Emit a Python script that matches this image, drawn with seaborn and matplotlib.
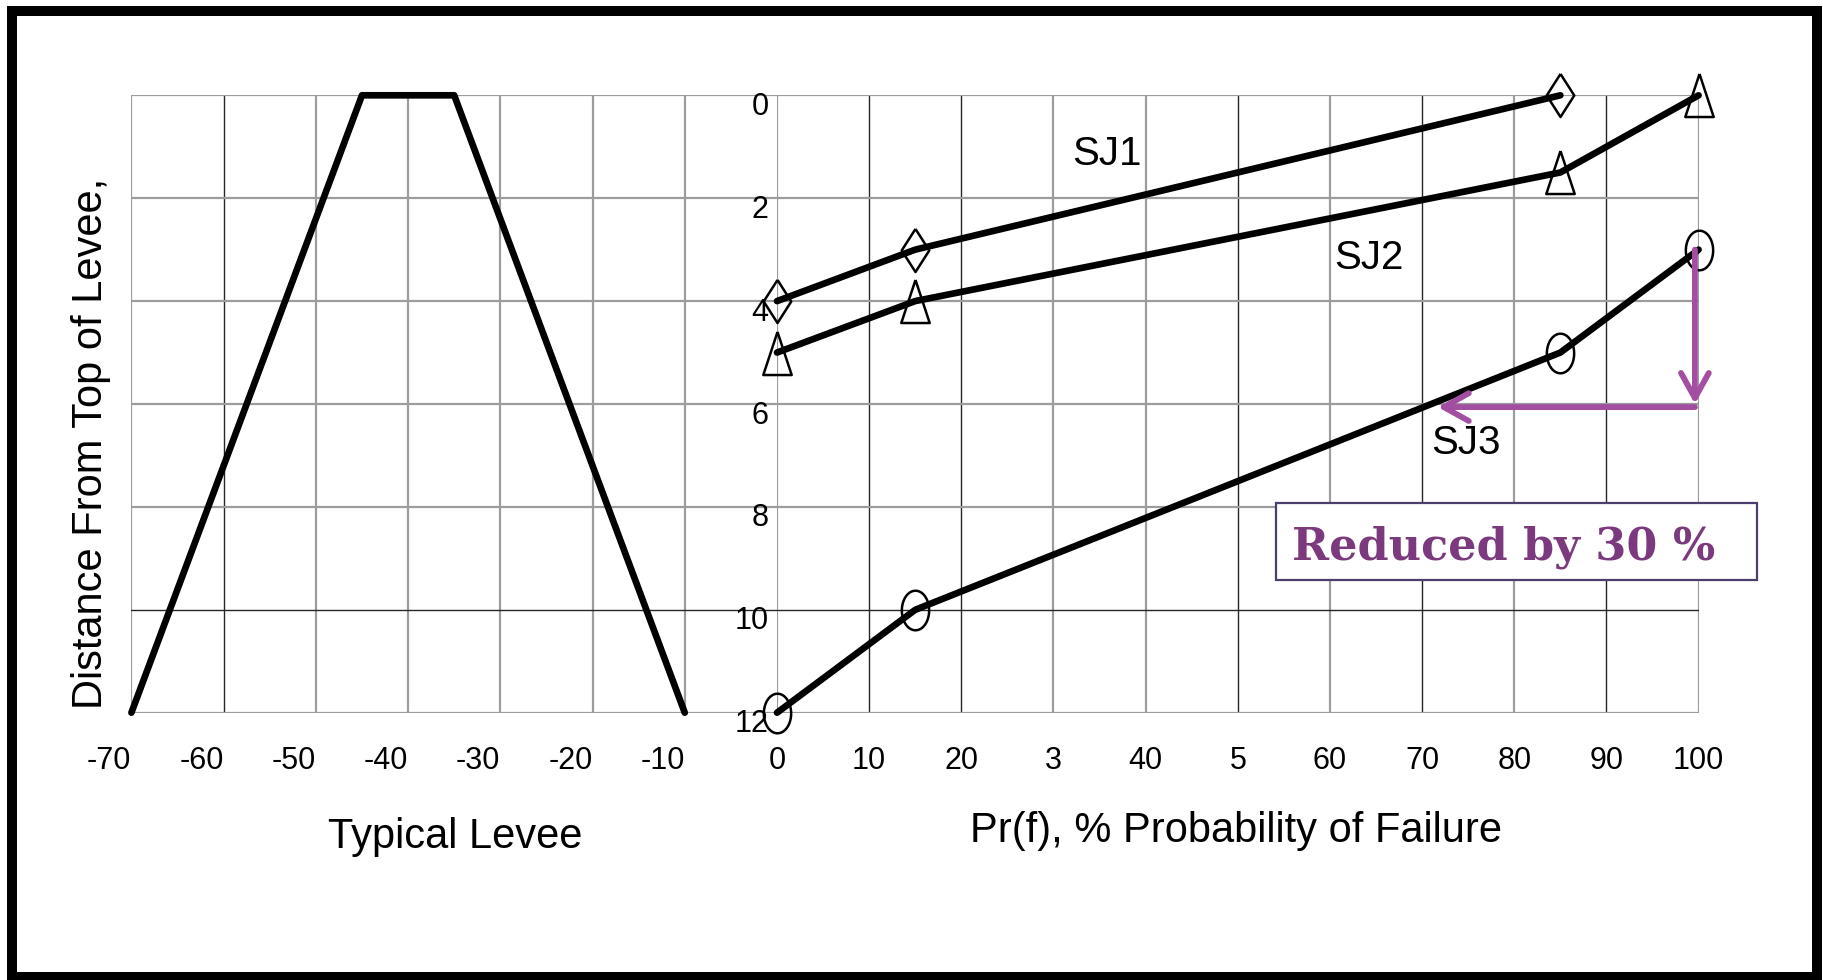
import numpy as np
import matplotlib
matplotlib.use("Agg")
import matplotlib.pyplot as plt
import seaborn as sns
from matplotlib.patches import Rectangle
from matplotlib.transforms import ScaledTranslation

# ---------------- data ----------------
levee_x = [-70, -45, -35, -10]
levee_y = [12, 0, 0, 12]

sj1_pf = [0, 15, 85]
sj1_depth = [4, 3, 0]
sj2_pf = [0, 15, 85, 100]
sj2_depth = [5, 4, 1.5, 0]
sj3_pf = [0, 15, 85, 100]
sj3_depth = [12, 10, 5, 3]
series_names = ["SJ1", "SJ2", "SJ3"]

levee_ticks = [-70, -60, -50, -40, -30, -20, -10]
levee_ticklabels = ["-70", "-60", "-50", "-40", "-30", "-20", "-10"]
pf_ticks = [0, 10, 20, 30, 40, 50, 60, 70, 80, 90, 100]
pf_ticklabels = ["0", "10", "20", "3", "40", "5", "60", "70", "80", "90", "100"]
depth_ticks = [0, 2, 4, 6, 8, 10, 12]
depth_ticklabels = ["0", "2", "4", "6", "8", "10", "12"]

reduction_from_depth = 3      # SJ3 depth at 100 %
reduction_to_depth = 6
reduction_pf = 71.7
annotation_text = "Reduced by 30 %"

# ---------------- style ----------------
sns.set_style("white")
plt.rcParams["font.family"] = ["Liberation Sans", "DejaVu Sans"]
plt.rcParams["text.color"] = "black"
plt.rcParams["axes.labelcolor"] = "black"
plt.rcParams["xtick.color"] = "black"
plt.rcParams["ytick.color"] = "black"

W, H = 1823, 980
fig = plt.figure(figsize=(W / 100, H / 100), dpi=100)
fig.patch.set_facecolor("white")


def px_axes(x0, y0, x1, y1):
    return [x0 / W, 1 - y1 / H, (x1 - x0) / W, (y1 - y0) / H]


ax_l = fig.add_axes(px_axes(131.4, 95.3, 777, 712.7))
ax_r = fig.add_axes(px_axes(777, 95.3, 1698.6, 712.7))

grid_color = "#9c9c9c"
dark_color = "#262626"
dark_x = {-60, 10, 20, 50, 70, 90}
dark_y = {10}

LINE_W = 4.8
TICK_FS = 22
LABEL_FS = 30


def ellipse_verts(rx, n=64):
    t = np.linspace(0, 2 * np.pi, n)
    return list(zip(rx * np.sin(t), np.cos(t)))


diamond = [(0, 1), (0.64, 0), (0, -1), (-0.64, 0), (0, 1)]
triangle = [(0, 1), (0.66, -1), (-0.66, -1), (0, 1)]
ellipse = ellipse_verts(0.69)

# ---------------- left panel: levee ----------------
sns.lineplot(x=levee_x, y=levee_y, ax=ax_l, color="black", linewidth=LINE_W,
             sort=False, clip_on=False, zorder=3)
ax_l.set_xlim(-70, 0)
ax_l.set_ylim(12, 0)
ax_l.set_xticks(levee_ticks)
ax_l.set_xticklabels(levee_ticklabels, fontsize=TICK_FS, ha="right")
ax_l.set_yticks(depth_ticks)
ax_l.tick_params(axis="y", length=0, labelleft=False)
ax_l.tick_params(axis="x", direction="out", length=6, width=1, color=grid_color, pad=18)
ax_l.set_xlabel("Typical Levee", fontsize=LABEL_FS, va="center")
ax_l.xaxis.set_label_coords(0.501, -0.202)
ax_l.set_ylabel("Distance From Top of Levee,", fontsize=LABEL_FS, va="center")
ax_l.yaxis.set_label_coords(-0.0626, 0.436)

# ---------------- right panel: probability of failure ----------------
series = [(sj1_pf, sj1_depth, diamond, 31),
          (sj2_pf, sj2_depth, triangle, 31),
          (sj3_pf, sj3_depth, ellipse, 28.5)]
for (xs, ys, mk, ms) in series:
    sns.lineplot(x=xs, y=ys, ax=ax_r, color="black", linewidth=LINE_W, sort=False,
                 marker=mk, markersize=ms, markerfacecolor="none",
                 markeredgecolor="black", markeredgewidth=1.8, clip_on=False, zorder=3)

ax_r.set_xlim(0, 100)
ax_r.set_ylim(12, 0)
ax_r.set_xticks(pf_ticks)
ax_r.set_xticklabels(pf_ticklabels, fontsize=TICK_FS)
ax_r.set_yticks(depth_ticks)
ax_r.set_yticklabels(depth_ticklabels, fontsize=TICK_FS)
ax_r.tick_params(axis="y", length=0, pad=6)
ax_r.tick_params(axis="x", direction="out", length=6, width=1, color=grid_color, pad=18)
ax_r.set_xlabel("Pr(f), % Probability of Failure", fontsize=LABEL_FS, va="center")
ax_r.xaxis.set_label_coords(0.498, -0.191)
ax_r.set_ylabel("")

for lab in ax_r.get_yticklabels():
    lab.set_transform(lab.get_transform() + ScaledTranslation(0, -8 / 100, fig.dpi_scale_trans))

for ax in (ax_l, ax_r):
    ax.set_facecolor("white")
    for sp in ax.spines.values():
        sp.set_visible(False)
    ax.set_axisbelow(True)
    ax.grid(True, color=grid_color, linewidth=1.6)
    for tick_val, gl in zip(ax.get_xticks(), ax.xaxis.get_gridlines()):
        if tick_val in dark_x:
            gl.set_color(dark_color)
            gl.set_linewidth(1.0)
    for tick_val, gl in zip(ax.get_yticks(), ax.yaxis.get_gridlines()):
        if tick_val in dark_y:
            gl.set_color(dark_color)
            gl.set_linewidth(1.0)

# series labels
label_pos = [(35.8, 1.15), (64.2, 3.16), (74.8, 6.76)]
for name, (lx, ly) in zip(series_names, label_pos):
    ax_r.text(lx, ly, name, fontsize=29, ha="center", va="center", zorder=4)

# purple reduction arrows
arrow_color = "#a24fa2"
arrow_kw = dict(arrowstyle="->,head_length=0.9,head_width=0.5", color=arrow_color,
                lw=4.2, shrinkA=0, shrinkB=0, mutation_scale=20)
ax_r.annotate("", xy=(99.6, reduction_to_depth), xytext=(99.6, reduction_from_depth),
              arrowprops=arrow_kw, annotation_clip=False, zorder=5)
ax_r.annotate("", xy=(reduction_pf, reduction_to_depth + 0.06),
              xytext=(99.6, reduction_to_depth + 0.06),
              arrowprops=arrow_kw, annotation_clip=False, zorder=5)

# annotation box
box = Rectangle((54.1, 7.92), 52.2, 1.50, facecolor="white", edgecolor="#4b3f6e",
                linewidth=1.6, clip_on=False, zorder=6)
ax_r.add_patch(box)
ax_r.text(78.8, 9.03, annotation_text, fontsize=32, fontweight="bold",
          family=["DejaVu Serif"], color="#7b3a7d", ha="center", va="baseline",
          zorder=7, clip_on=False)

# outer frame
fig.add_artist(Rectangle((12 / W, 1 - 977 / H), (1817 - 12) / W, (977 - 11) / H,
                         transform=fig.transFigure, fill=False, edgecolor="black",
                         linewidth=7.2, zorder=10))

fig.savefig("out.png", dpi=100, facecolor="white")
